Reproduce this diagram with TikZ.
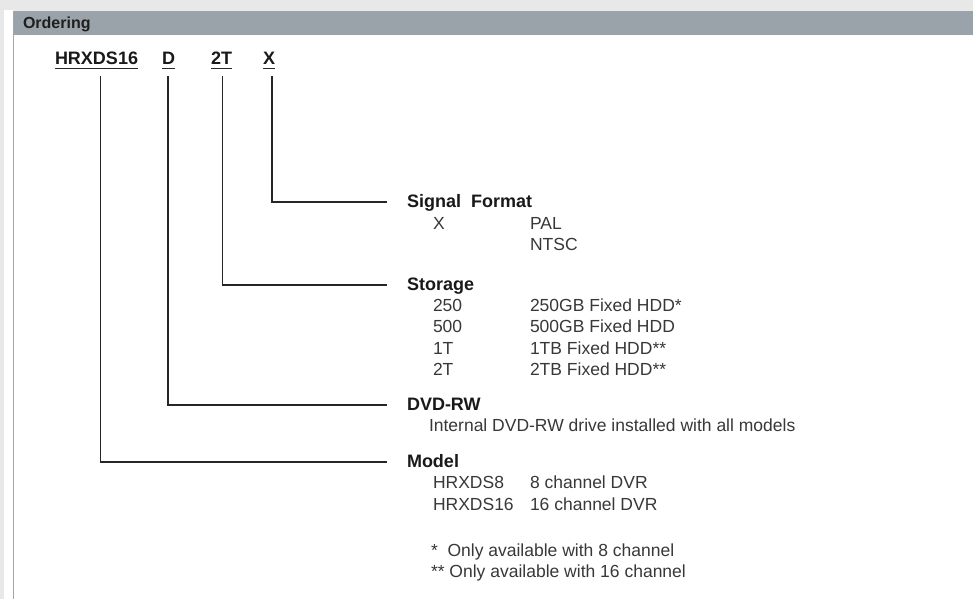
\documentclass[tikz,border=0pt]{standalone}
\usepackage{fontspec}
\setmainfont{Liberation Sans}
\usepackage{tikz}

\definecolor{pagebg}{HTML}{E8E8E8}
\definecolor{headbar}{HTML}{9AA2AA}
\definecolor{rulegray}{HTML}{A4A6AC}

\begin{document}
\begin{tikzpicture}[x=1pt,y=-1pt,
    every node/.style={inner sep=0pt,outer sep=0pt,anchor=base west},
    code/.style={font=\bfseries\fontsize{18}{21}\selectfont,text=black!90},
    head/.style={font=\bfseries\fontsize{18}{21}\selectfont,text=black!90},
    item/.style={font=\fontsize{17.5}{21}\selectfont,text=black!78},
    conn/.style={line width=1.6pt,black!85},
    uline/.style={line width=1.4pt,black!85}]
            % page and header bar
            \useasboundingbox (0,0) rectangle (973,599);
            \fill[pagebg] (0,0) rectangle (973,599);
            \fill[white] (4,10) rectangle (973,599);
            \fill[headbar] (14,11) rectangle (973,35);
            \draw[white!75!headbar,line width=1pt] (14,10.5) -- (973,10.5);
            \draw[rulegray,line width=1.3pt] (13.5,11) -- (13.5,599);
            \node[font=\bfseries\fontsize{16}{18}\selectfont,text=black!88] (title) at (23,29) {Ordering};

            % order code
            \node[code] (hrx) at (55,65) {HRXDS16};
            \node[code] (dvd) at (162,65) {D};
            \node[code] (hdd) at (211,65) {2T};
            \node[code] (fmt) at (263,65) {X};
            \foreach \c in {hrx,dvd,hdd,fmt}
                \draw[uline] ([yshift=-3.5]\c.base west) -- ([yshift=-3.5]\c.base east);

            % option blocks
            \node[head] (sigfmt) at (407,207) {Signal\ \ Format};
            \node[item] (x) at (433,229) {X};
            \node[item] (pal) at (530,229) {PAL};
            \node[item] (ntsc) at (530,250.5) {NTSC};

            \node[head] (storage) at (407,290) {Storage};
            \foreach \k/\t [count=\i] in {250/250GB Fixed HDD*,500/500GB Fixed HDD,1T/1TB Fixed HDD**,2T/2TB Fixed HDD**} {
                \node[item] (cap\i) at (433,289.5+21.5*\i) {\k};
                \node[item] (hd\i) at (530,289.5+21.5*\i) {\t};
            }

            \node[head] (dvdrw) at (407,410) {DVD-RW};
            \node[item] (drive) at (429,431.5) {Internal DVD-RW drive installed with all models};

            \node[head] (model) at (407,467) {Model};
            \node[item] (m8) at (433,488.5) {HRXDS8};
            \node[item] (d8) at (530,488.5) {8 channel DVR};
            \node[item] (m16) at (433,510) {HRXDS16};
            \node[item] (d16) at (530,510) {16 channel DVR};

            \node[item] (note1) at (431,556) {*\ \ Only available with 8 channel};
            \node[item] (note2) at (431,577.5) {**\ Only available with 16 channel};

            % connectors
            \draw[conn] ([xshift=3,yshift=-11]fmt.base) |- ([xshift=-20,yshift=5]sigfmt.base west);
            \draw[conn] ([xshift=1,yshift=-11]hdd.base) |- ([xshift=-20,yshift=5]storage.base west);
            \draw[conn] ([xshift=-0.5,yshift=-11]dvd.base) |- ([xshift=-20,yshift=5]dvdrw.base west);
            \draw[conn] ([xshift=4,yshift=-11]hrx.base) |- ([xshift=-20,yshift=5]model.base west);
        \end{tikzpicture}
\end{document}
